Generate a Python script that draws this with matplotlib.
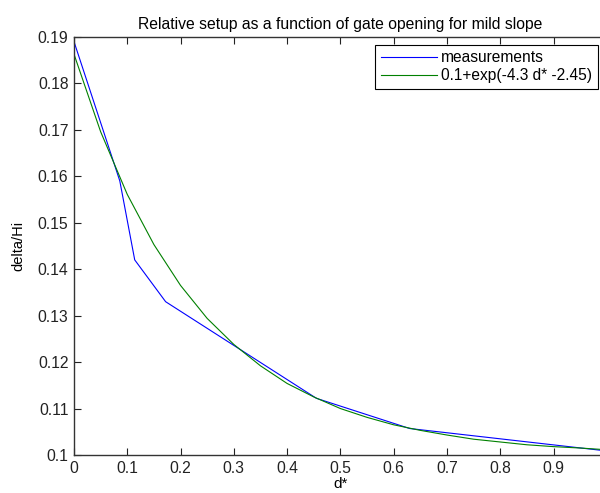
import matplotlib
matplotlib.use('Agg')
import matplotlib.pyplot as plt

plt.rcParams['font.family'] = ['Liberation Sans', 'DejaVu Sans']

# measured relative setup
d_meas = [0.0, 0.086, 0.114, 0.172, 0.455, 0.63, 0.99]
setup_meas = [0.189, 0.159, 0.142, 0.133, 0.1122, 0.1057, 0.1010]

# fitted curve
d_fit = [0.0, 0.05, 0.1, 0.15, 0.2, 0.25, 0.3, 0.35, 0.4, 0.45, 0.5,
         0.55, 0.6, 0.65, 0.7, 0.75, 0.8, 0.85, 0.9, 0.95, 0.99]
setup_fit = [0.1863, 0.1696, 0.1561, 0.1453, 0.1365, 0.1294, 0.1238, 0.1192,
             0.1154, 0.1125, 0.1100, 0.1081, 0.1065, 0.1053, 0.1043, 0.1034,
             0.1028, 0.1022, 0.1018, 0.1015, 0.1012]

xticks = [0, 0.1, 0.2, 0.3, 0.4, 0.5, 0.6, 0.7, 0.8, 0.9]
xticklabels = ['0', '0.1', '0.2', '0.3', '0.4', '0.5', '0.6', '0.7', '0.8', '0.9']
yticks = [0.1, 0.11, 0.12, 0.13, 0.14, 0.15, 0.16, 0.17, 0.18, 0.19]
yticklabels = ['0.1', '0.11', '0.12', '0.13', '0.14', '0.15', '0.16', '0.17', '0.18', '0.19']

fig = plt.figure(figsize=(6.0, 4.93), dpi=100)
ax = fig.add_axes([0.1233, 0.0771, 0.888, 0.848])

ax.plot(d_meas, setup_meas, color=(0, 0, 1), lw=0.8, label='measurements')
ax.plot(d_fit, setup_fit, color=(0, 0.5, 0), lw=0.8, label='0.1+exp(-4.3 d* -2.45)')

ax.set_xlim(0, 1)
ax.set_ylim(0.1, 0.19)
ax.set_xticks(xticks)
ax.set_xticklabels(xticklabels)
ax.set_yticks(yticks)
ax.set_yticklabels(yticklabels)
ax.tick_params(direction='in', length=5, width=0.8, labelsize=11.3, colors='#222222',
               top=True, right=True, pad=4)
for s in ax.spines.values():
    s.set_linewidth(1.0)
    s.set_color('#333333')

ax.set_title('Relative setup as a function of gate opening for mild slope',
             fontsize=11.3, pad=6)
ax.set_xlabel('d*', fontsize=11, labelpad=1)
ax.set_ylabel('delta/Hi', fontsize=10.5, labelpad=9)

leg = ax.legend(loc='upper right', bbox_to_anchor=(0.983, 0.981), borderaxespad=0,
                fontsize=11.2, fancybox=False, framealpha=1, edgecolor='black',
                handlelength=3.6, handletextpad=0.3, borderpad=0.35, labelspacing=0.2)
leg.get_frame().set_linewidth(0.8)

fig.savefig('out.png', dpi=100)
